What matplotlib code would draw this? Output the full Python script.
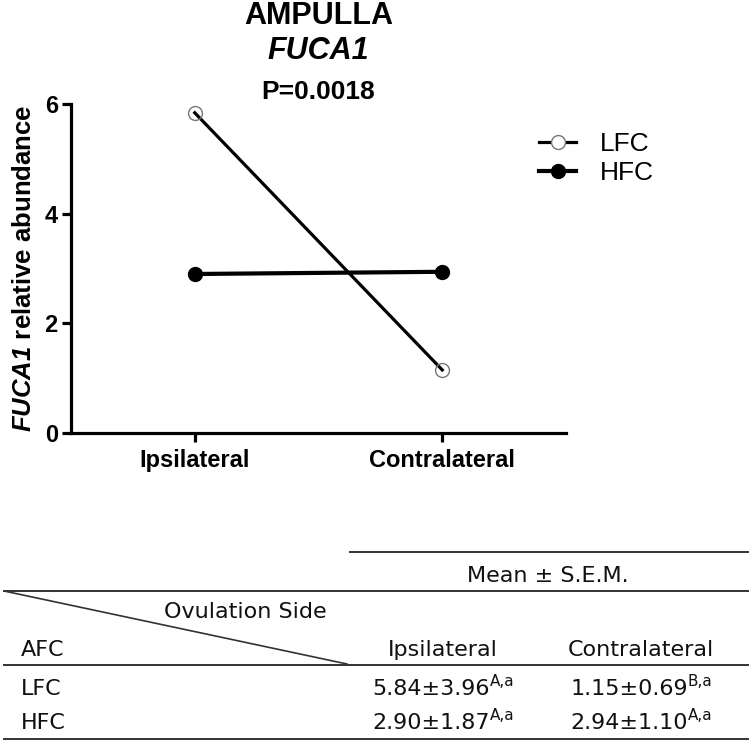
import matplotlib
matplotlib.use("Agg")
import matplotlib.pyplot as plt
from matplotlib.lines import Line2D

# ---- data ----
categories = ["Ipsilateral", "Contralateral"]
lfc_values = [5.84, 1.15]
hfc_values = [2.90, 2.94]
series_names = ["LFC", "HFC"]
y_ticks = [0, 2, 4, 6]

table_cols = ["Ipsilateral", "Contralateral"]
table_rows = ["LFC", "HFC"]
table_means = [["5.84±3.96", "1.15±0.69"], ["2.90±1.87", "2.94±1.10"]]
table_letters = [["A,a", "B,a"], ["A,a", "A,a"]]

plt.rcParams['mathtext.fontset'] = 'custom'
plt.rcParams['mathtext.it'] = 'Liberation Sans:italic:bold'
plt.rcParams['mathtext.rm'] = 'Liberation Sans:italic:bold'
plt.rcParams['mathtext.bf'] = 'Liberation Sans:bold'

W, H = 750, 744
fig = plt.figure(figsize=(7.5, 7.44), dpi=100)

def fx(px):
    return px / W

def fy(py):
    return 1 - py / H

ax = fig.add_axes([fx(71), fy(433), fx(566) - fx(71), fy(104) - fy(433)])
xpos = list(range(len(categories)))
ax.plot(xpos, lfc_values, color='black', lw=2.3, marker='o', ms=10,
        mfc='none', mec='#777777', mew=1.0, zorder=3)
ax.plot(xpos, hfc_values, color='black', lw=3.0, marker='o', ms=10,
        mfc='black', mec='black', zorder=3)
ax.set_xlim(-0.5, 1.5)
ax.set_ylim(0, 6)
ax.set_yticks(y_ticks)
ax.set_xticks(xpos)
ax.set_xticklabels(categories)
for s in ['top', 'right']:
    ax.spines[s].set_visible(False)
for s in ['left', 'bottom']:
    ax.spines[s].set_linewidth(2.3)
ax.tick_params(width=2.3, length=6.5)
ax.tick_params(axis='y', pad=3)
ax.tick_params(axis='x', pad=5)
for lab in ax.get_xticklabels() + ax.get_yticklabels():
    lab.set_fontfamily('Liberation Sans')
    lab.set_fontweight('bold')
    lab.set_fontsize(17)
ax.set_ylabel(r'$\mathrm{FUCA1}$ relative abundance', fontfamily='Liberation Sans',
              fontweight='bold', fontsize=18.5, labelpad=6)

handles = [
    Line2D([], [], color='black', lw=2.3, marker='o', ms=10, mfc='white', mec='#777777', mew=1.0),
    Line2D([], [], color='black', lw=3.0, marker='o', ms=10, mfc='black', mec='black'),
]
fig.legend(handles, series_names, loc='upper left', bbox_to_anchor=(fx(526), fy(119)),
           frameon=False, borderpad=0, handlelength=1.4, handletextpad=0.9,
           labelspacing=0.2, prop={'family': 'Liberation Sans', 'size': 19})

# titles
cx = fx(318.5)
fig.text(cx, fy(15.5), "AMPULLA", ha='center', va='center', fontfamily='Liberation Sans',
         fontweight='bold', fontsize=22)
fig.text(cx, fy(51), "FUCA1", ha='center', va='center', fontfamily='Liberation Sans',
         fontweight='bold', fontstyle='italic', fontsize=22)
fig.text(cx, fy(92), "P=0.0018", ha='center', va='center', fontfamily='Liberation Sans',
         fontweight='bold', fontsize=19)

# ---- table ----
lc = '#333333'
def hline(x0, x1, y, lw=1.4):
    fig.add_artist(Line2D([fx(x0), fx(x1)], [fy(y), fy(y)], transform=fig.transFigure,
                          color=lc, lw=lw))
hline(350, 748, 552)
hline(4, 748, 591)
hline(4, 748, 665)
hline(4, 748, 739)
fig.add_artist(Line2D([fx(4), fx(347)], [fy(591), fy(664)], transform=fig.transFigure,
                      color=lc, lw=1.2))

tf = dict(fontfamily='DejaVu Sans', fontsize=16, color='#111111')
fig.text(fx(548), fy(582), "Mean ± S.E.M.", ha='center', va='baseline', **tf)
fig.text(fx(245), fy(618), "Ovulation Side", ha='center', va='baseline', **tf)
fig.text(fx(21), fy(656), "AFC", ha='left', va='baseline', **tf)
col_x = [443, 641]
for j, c in enumerate(table_cols):
    fig.text(fx(col_x[j]), fy(656), c, ha='center', va='baseline', **tf)
row_y = [695, 729]
for i, r in enumerate(table_rows):
    fig.text(fx(21), fy(row_y[i]), r, ha='left', va='baseline', **tf)
    for j in range(len(table_cols)):
        t = fig.text(fx(col_x[j] - 12), fy(row_y[i]), table_means[i][j],
                     ha='center', va='baseline', **tf)
        fig.text(0, 0, table_letters[i][j], transform=None) if False else None
        ax.annotate(table_letters[i][j], xy=(1.0, 0.86), xycoords=t, ha='left', va='center',
                    fontfamily='DejaVu Sans', fontsize=11, color='#111111',
                    annotation_clip=False)

fig.savefig('out.png', dpi=100, facecolor='white')
